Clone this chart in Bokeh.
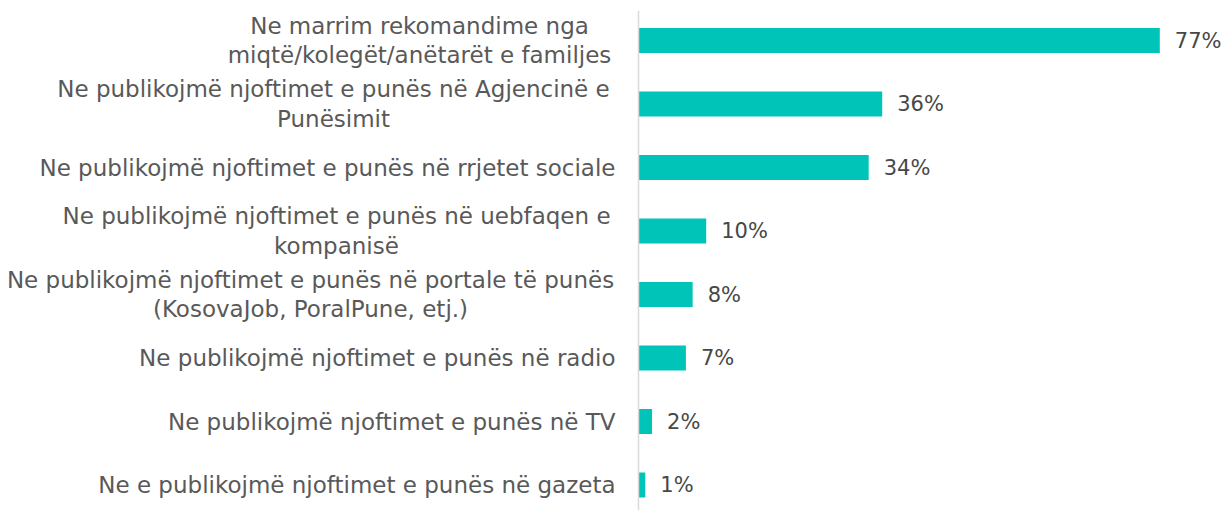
from bokeh.plotting import figure
from bokeh.models import Range1d, Label, ColumnDataSource, Span
from bokeh.core.properties import value as pv
from bokeh.embed import file_html
from bokeh.resources import INLINE

categories = [
    ["Ne marrim rekomandime nga", "miqtë/kolegët/anëtarët e familjes"],
    ["Ne publikojmë njoftimet e punës në Agjencinë e", "Punësimit"],
    ["Ne publikojmë njoftimet e punës në rrjetet sociale"],
    ["Ne publikojmë njoftimet e punës në uebfaqen e", "kompanisë"],
    ["Ne publikojmë njoftimet e punës në portale të punës", "(KosovaJob, PoralPune, etj.)"],
    ["Ne publikojmë njoftimet e punës në radio"],
    ["Ne publikojmë njoftimet e punës në TV"],
    ["Ne e publikojmë njoftimet e punës në gazeta"],
]
values = [77, 36, 34, 10, 8, 7, 2, 1]
value_labels = [f"{v}%" for v in values]

FONT = "DejaVu Sans"
LFS = "23px"
VFS = "21px"
LTXT = "#595959"
VTXT = "#474747"
BAR = "#00C4B8"

W, H = 1225, 510
AXIS_X = 638
TOP = 10
px_per_unit_x = 6.77
band = 63.5
frame_h = H - TOP
first_center = 30  # px below frame top

p = figure(width=W, height=H, output_backend="svg", toolbar_location=None,
           min_border_left=0, min_border_right=0, min_border_top=TOP, min_border_bottom=0,
           x_range=Range1d(-AXIS_X / px_per_unit_x, (W - AXIS_X) / px_per_unit_x),
           y_range=Range1d((frame_h - first_center) / band, -first_center / band))
p.axis.visible = False
p.grid.visible = False
p.outline_line_color = None
p.background_fill_color = None
p.border_fill_color = None

ys = list(range(len(values)))
src = ColumnDataSource(dict(y=ys, v=values, lab=value_labels))
p.hbar(y="y", left=0, right="v", height=25 / band, source=src,
       fill_color=BAR, line_color=None)
p.text(x="v", y="y", text="lab", source=src, x_offset=15,
       text_align="left", text_baseline="middle", text_font_size=VFS,
       text_color=VTXT, text_font=pv(FONT))

p.add_layout(Span(location=0, dimension="height", line_color="#d9d9d9", line_width=1.5))

# label positions (screen x)
centers = {0: 419, 1: 333, 3: 336, 4: 310}
right_x = 615
off = 0.235
for i, lines in enumerate(categories):
    if len(lines) == 1:
        p.add_layout(Label(x=right_x, y=i, x_units="screen", y_units="data", text=lines[0],
                           text_align="right", text_baseline="middle", text_font=FONT,
                           text_font_size=LFS, text_color=LTXT))
    else:
        for j, ln in enumerate(lines):
            p.add_layout(Label(x=centers[i], y=i + (j - 0.5) * 2 * off, x_units="screen", y_units="data",
                               text=ln, text_align="center", text_baseline="middle", text_font=FONT,
                               text_font_size=LFS, text_color=LTXT))

open("out.html", "w").write(file_html(p, INLINE))
